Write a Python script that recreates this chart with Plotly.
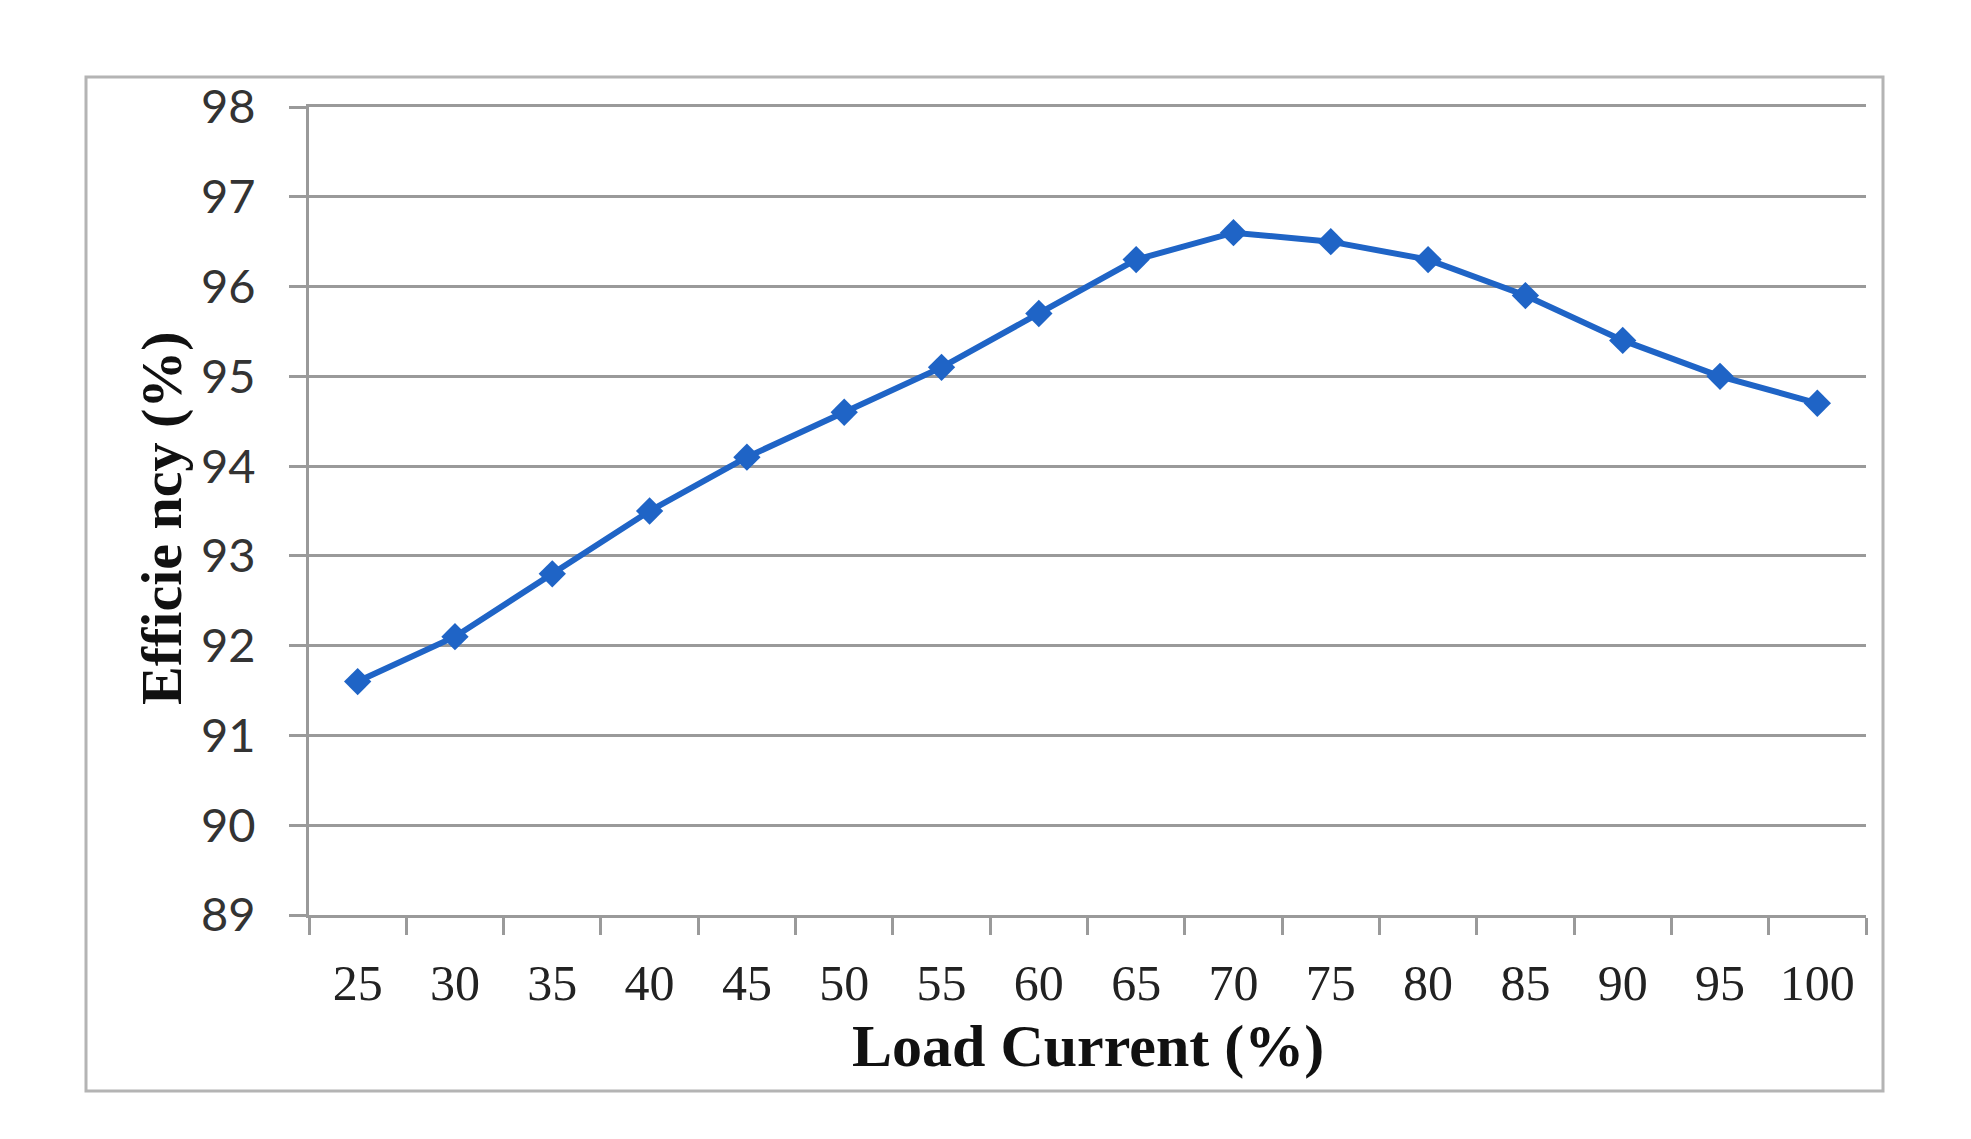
import plotly.graph_objects as go

load_current = ["25", "30", "35", "40", "45", "50", "55", "60",
                "65", "70", "75", "80", "85", "90", "95", "100"]
efficiency = [91.6, 92.1, 92.8, 93.5, 94.1, 94.6, 95.1, 95.7,
              96.3, 96.6, 96.5, 96.3, 95.9, 95.4, 95.0, 94.7]
y_ticks = [89, 90, 91, 92, 93, 94, 95, 96, 97, 98]

OFF = 8  # default body margin of the html page
W, H = 1971 - 2 * OFF, 1139 - 2 * OFF
L, T = 309 - OFF, 107 - OFF
pw, ph = 1866 - 309, 915 - 107
R, B = W - L - pw, H - T - ph

def px(x):
    return (x - OFF - L) / pw

def py(y):
    return (T + ph - (y - OFF)) / ph

fig = go.Figure()
fig.add_trace(go.Scatter(
    x=load_current, y=efficiency, mode="lines+markers",
    line=dict(color="#1f64c6", width=6),
    marker=dict(symbol="diamond", size=21, color="#1f64c6"),
    showlegend=False,
))

fig.update_layout(
    width=W, height=H,
    margin=dict(l=L, r=R, t=T, b=B),
    paper_bgcolor="white", plot_bgcolor="white",
    xaxis=dict(
        type="category", tickson="boundaries", ticks="outside",
        range=[-0.5, len(load_current) - 0.5],
        ticklen=17, tickwidth=3, tickcolor="#9a9a9a",
        showline=True, linecolor="#9a9a9a", linewidth=3, mirror=True,
        showgrid=False, zeroline=False,
        tickfont=dict(family="Liberation Serif", size=50, color="#222222"),
        ticklabelstandoff=22,
    ),
    yaxis=dict(
        range=[89, 98], tickvals=y_ticks, ticks="outside",
        ticklen=17, tickwidth=3, tickcolor="#9a9a9a",
        showline=True, linecolor="#9a9a9a", linewidth=3,
        showgrid=True, gridcolor="#9a9a9a", gridwidth=3,
        zeroline=False,
        tickfont=dict(family="Lato", size=47, color="#333333"),
        ticklabelstandoff=24,
    ),
)

fig.add_shape(type="rect", xref="paper", yref="paper",
              x0=px(86), x1=px(1883), y0=py(1091), y1=py(77),
              line=dict(color="#b4b4b4", width=3), layer="below")

fig.add_annotation(text="<b>Load Current (%)</b>", xref="paper", yref="paper",
                   x=0.5, y=py(1046), xanchor="center", yanchor="middle",
                   showarrow=False,
                   font=dict(family="Liberation Serif", size=60, color="#111111"))
fig.add_annotation(text="<b>Efficie ncy (%)</b>", xref="paper", yref="paper",
                   x=px(161), y=py(518), xanchor="center", yanchor="middle",
                   textangle=-90, showarrow=False,
                   font=dict(family="Liberation Serif", size=58, color="#111111"))

fig.write_html("out.html")
